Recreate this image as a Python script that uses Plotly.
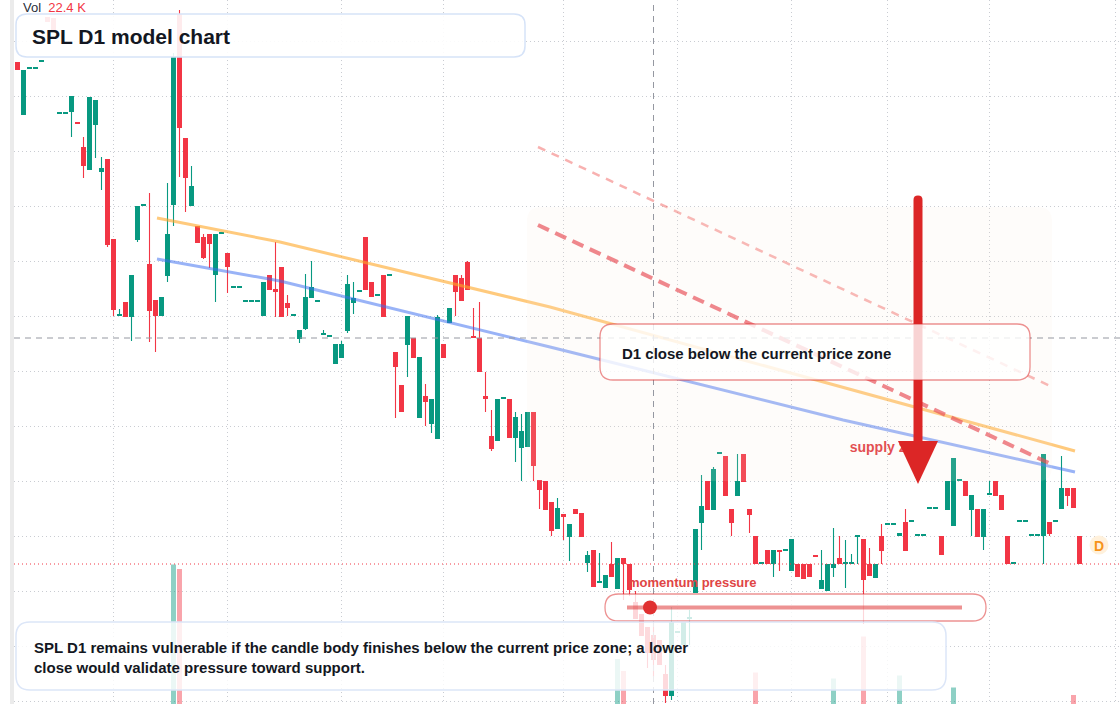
import plotly.graph_objects as go

# ------------------------------------------------------------------ data
open_ = [
    7.38, 6.85, 7.31, 7.31, 7.38, 7.83, 7.82, 6.86, 6.86, 6.88,
    6.78, 6.53, 6.30, 6.75, 6.28, 6.41, 5.61, 4.84, 4.98, 4.83,
    5.60, 5.94, 5.36, 5.00, 4.84, 5.24, 5.95, 7.86, 6.62, 5.94,
    5.74, 5.63, 5.66, 5.25, 5.66, 5.47, 5.12, 5.12, 4.98, 4.98,
    4.98, 4.84, 5.25, 5.11, 5.33, 4.97, 4.84, 4.61, 4.71, 5.02,
    4.98, 4.65, 4.63, 4.36, 4.42, 4.69, 4.97, 5.08, 5.63, 5.18,
    5.04, 5.25, 5.24, 4.48, 4.15, 4.55, 4.62, 3.82, 4.04, 3.76,
    3.61, 4.56, 4.77, 5.25, 5.22, 5.38, 4.63, 4.62, 4.04, 3.64,
    3.59, 4.01, 4.01, 3.62, 3.52, 3.53, 3.88, 3.20, 3.19, 2.98,
    2.71, 2.86, 2.63, 2.91, 2.87, 2.37, 2.50, 2.17, 2.12, 2.36,
    2.11, 2.42, 2.36, 1.98, 1.86, 1.73, 1.65, 1.60, 1.26, 1.04,
    1.67, 1.55, 1.81, 2.07, 2.77, 3.19, 2.90, 3.46, 3.44, 2.91,
    3.04, 3.46, 2.91, 2.64, 2.36, 2.50, 2.36, 2.50, 2.49, 2.29,
    2.36, 2.36, 2.36, 2.44, 2.11, 2.09, 2.32, 2.42, 2.36, 2.36,
    2.63, 2.61, 2.36, 2.22, 2.64, 2.75, 2.75, 2.64, 2.78, 2.78,
    2.64, 2.64, 2.91, 2.91, 2.64, 2.90, 2.74, 3.19, 3.19, 2.90,
    2.91, 2.63, 3.05, 3.19, 3.05, 2.64, 2.36, 2.78, 2.78, 2.64,
    2.64, 2.64, 2.78, 2.78, 2.91, 3.12, 3.12, 2.64,
]
high_ = [
    7.38, 7.30, 7.31, 7.31, 7.38, 7.83, 7.82, 6.86, 6.86, 7.04,
    6.78, 6.63, 7.03, 7.00, 6.43, 6.41, 5.61, 4.91, 4.98, 5.25,
    5.94, 5.94, 6.07, 5.00, 5.03, 6.17, 7.47, 7.90, 6.62, 6.34,
    5.74, 5.66, 5.66, 5.66, 5.66, 5.47, 5.12, 5.12, 4.98, 4.98,
    4.98, 5.18, 5.25, 5.58, 5.33, 5.05, 4.84, 4.70, 5.26, 5.39,
    4.98, 4.70, 4.63, 4.56, 4.59, 5.25, 5.18, 5.08, 5.63, 5.18,
    5.04, 5.25, 5.24, 4.48, 4.15, 4.84, 4.62, 4.43, 4.16, 4.01,
    4.85, 4.56, 4.92, 5.25, 5.25, 5.39, 4.92, 4.98, 4.28, 3.90,
    4.01, 4.01, 4.01, 3.88, 3.86, 3.88, 3.88, 3.20, 3.19, 2.98,
    3.02, 2.86, 2.76, 2.91, 2.87, 2.49, 2.50, 2.47, 2.25, 2.58,
    2.42, 2.42, 2.36, 2.09, 1.86, 1.73, 1.78, 1.60, 1.35, 1.93,
    1.67, 1.78, 1.90, 2.71, 3.25, 3.19, 3.33, 3.46, 3.44, 2.91,
    3.46, 3.46, 2.91, 2.64, 2.36, 2.50, 2.50, 2.50, 2.49, 2.61,
    2.36, 2.36, 2.36, 2.44, 2.50, 2.36, 2.72, 2.64, 2.60, 2.46,
    2.64, 2.61, 2.52, 2.36, 2.76, 2.75, 2.75, 2.67, 2.91, 2.78,
    2.64, 2.64, 2.93, 2.91, 2.64, 3.19, 3.42, 3.19, 3.19, 3.05,
    2.91, 2.91, 3.19, 3.19, 3.05, 2.64, 2.36, 2.78, 2.78, 2.64,
    2.64, 3.46, 2.78, 2.78, 3.44, 3.12, 3.12, 2.64,
]
low_ = [
    7.30, 6.85, 7.31, 7.31, 7.38, 7.78, 7.70, 6.86, 6.86, 6.63,
    6.76, 6.22, 6.30, 6.42, 6.10, 5.53, 4.84, 4.84, 4.83, 4.59,
    5.58, 5.94, 4.58, 4.48, 4.84, 5.18, 5.74, 6.23, 5.88, 5.94,
    5.57, 5.41, 5.32, 4.98, 5.66, 5.07, 5.12, 5.12, 4.98, 4.98,
    4.98, 4.84, 5.10, 4.83, 4.83, 4.84, 4.84, 4.57, 4.70, 5.02,
    4.98, 4.65, 4.63, 4.36, 4.42, 4.67, 4.86, 5.08, 5.10, 5.03,
    5.04, 4.83, 5.24, 3.82, 3.88, 4.23, 4.42, 3.82, 3.74, 3.67,
    3.61, 4.42, 4.77, 4.84, 4.99, 5.10, 4.62, 4.28, 3.88, 3.49,
    3.59, 4.01, 3.62, 3.38, 3.19, 3.53, 3.19, 2.91, 2.90, 2.64,
    2.71, 2.60, 2.39, 2.86, 2.63, 2.28, 2.13, 2.17, 2.12, 2.23,
    2.11, 2.00, 2.04, 1.81, 1.64, 1.32, 1.23, 1.35, 0.97, 1.00,
    1.67, 1.55, 1.55, 2.07, 2.50, 2.90, 2.90, 3.46, 3.04, 2.64,
    3.04, 3.18, 2.67, 2.36, 2.36, 2.36, 2.23, 2.29, 2.49, 2.29,
    2.23, 2.21, 2.23, 2.43, 2.11, 2.09, 2.23, 2.36, 2.12, 2.36,
    2.36, 1.76, 2.24, 2.22, 2.36, 2.75, 2.75, 2.64, 2.49, 2.78,
    2.64, 2.64, 2.91, 2.91, 2.45, 2.90, 2.74, 3.19, 3.04, 2.64,
    2.63, 2.50, 3.05, 3.04, 2.90, 2.36, 2.36, 2.78, 2.78, 2.64,
    2.64, 2.36, 2.64, 2.78, 2.91, 2.94, 2.92, 2.36,
]
close_ = [
    7.30, 7.30, 7.31, 7.31, 7.38, 7.78, 7.70, 6.86, 6.86, 7.04,
    6.76, 6.34, 7.03, 7.00, 6.32, 5.55, 4.90, 4.85, 4.83, 5.25,
    5.94, 5.94, 4.89, 4.84, 5.03, 5.66, 7.43, 6.72, 6.22, 6.14,
    5.57, 5.42, 5.56, 5.66, 5.66, 5.33, 5.12, 5.12, 4.98, 4.98,
    4.98, 5.18, 5.10, 5.08, 4.83, 4.92, 4.84, 4.70, 5.03, 5.13,
    4.98, 4.66, 4.63, 4.56, 4.56, 5.16, 5.02, 5.08, 5.10, 5.03,
    5.04, 4.83, 5.24, 4.33, 3.88, 4.84, 4.42, 4.43, 3.98, 4.01,
    4.83, 4.42, 4.92, 5.08, 4.99, 5.10, 4.62, 4.28, 4.01, 3.51,
    4.01, 4.01, 3.62, 3.83, 3.69, 3.88, 3.34, 3.10, 2.90, 2.69,
    2.92, 2.83, 2.76, 2.86, 2.63, 2.45, 2.13, 2.18, 2.25, 2.23,
    2.42, 2.36, 2.10, 1.81, 1.64, 1.47, 1.40, 1.35, 1.04, 1.78,
    1.67, 1.78, 1.83, 2.71, 2.94, 2.90, 3.31, 3.46, 3.04, 2.77,
    3.19, 3.18, 2.85, 2.36, 2.36, 2.36, 2.50, 2.48, 2.49, 2.61,
    2.23, 2.21, 2.23, 2.43, 2.20, 2.36, 2.36, 2.36, 2.37, 2.37,
    2.64, 2.20, 2.24, 2.36, 2.49, 2.75, 2.75, 2.67, 2.49, 2.78,
    2.64, 2.64, 2.92, 2.91, 2.45, 3.19, 3.42, 3.19, 3.04, 3.05,
    2.63, 2.91, 3.06, 3.04, 2.90, 2.36, 2.36, 2.78, 2.78, 2.64,
    2.64, 3.46, 2.66, 2.78, 3.12, 3.04, 2.92, 2.36,
]
volume_k = [
    14, 18, 6, 5, 7, 9, 8, 5, 6, 15,
    8, 19, 21, 16, 12, 22, 23, 9, 11, 17,
    18, 6, 20, 15, 10, 21, 117, 114, 23, 16,
    12, 13, 11, 17, 6, 12, 7, 6, 7, 6,
    5, 14, 10, 13, 16, 9, 6, 8, 15, 12,
    6, 7, 6, 11, 9, 18, 10, 6, 17, 9,
    6, 14, 5, 16, 13, 19, 11, 18, 12, 14,
    23, 10, 9, 13, 12, 14, 10, 17, 12, 15,
    16, 6, 17, 13, 15, 12, 19, 11, 14, 16,
    12, 10, 13, 8, 14, 11, 20, 9, 12, 15,
    54, 46, 22, 18, 17, 19, 16, 15, 21, 23,
    7, 12, 10, 23, 19, 16, 18, 6, 17, 12,
    13, 14, 11, 45, 5, 10, 12, 9, 5, 16,
    11, 12, 10, 6, 13, 15, 41, 10, 12, 8,
    9, 69, 11, 12, 13, 5, 6, 43, 15, 5,
    6, 5, 8, 6, 12, 18, 35, 6, 11, 13,
    15, 14, 9, 12, 10, 18, 5, 6, 7, 5,
    6, 23, 11, 6, 17, 12, 30, 22.4,
]

month_grid = [16, 35, 54, 71, 91, 110, 129, 145, 162, 183]
price_grid = [7.59, 7.04, 6.49, 5.94, 5.39, 4.84, 4.29, 3.74, 3.19, 2.64, 2.09, 1.54, 0.99]

upper_trend_x = [23.25, 43.75, 88.75, 176.25]
upper_trend_y = [5.82, 5.58, 4.93, 3.49]
lower_trend_x = [23.25, 43.75, 88.75, 137.6, 176.25]
lower_trend_y = [5.41, 5.19, 4.53, 3.80, 3.28]
proj_main_x = [86.75, 172.6]
proj_main_y = [5.75, 3.35]
proj_outer_x = [86.75, 172.1]
proj_outer_y = [6.53, 4.14]

crosshair_bar = 106
crosshair_price = 4.62

title_text = "SPL D1 model chart"
callout_text = "D1 close below the current price zone"
note_text = ("SPL D1 remains vulnerable if the candle body finishes below the current price zone; a lower"
             "<br>close would validate pressure toward support.")
pressure_label = "momentum pressure"
zone_label = "supply zone"
zone_label_at = (138.7, 3.52)

# ------------------------------------------------------------------ style / geometry
PW, PH, ML = 1120, 704, 14
GREEN = "#089981"
RED = "#F23645"
FONT = "Liberation Sans, Arial, sans-serif"
DARK = "#131722"


def px(x):
    return (x - ML) / (PW - ML)


def py(y):
    return 1 - y / PH


def path(cmds):
    out = []
    for c in cmds:
        op, pts = c[0], c[1:]
        coords = " ".join(f"{px(pts[k]):.5f},{py(pts[k + 1]):.5f}" for k in range(0, len(pts), 2))
        out.append(f"{op} {coords}")
    return " ".join(out) + " Z"


def rounded(x0, y0, x1, y1, r):
    return path([
        ("M", x0 + r, y0), ("L", x1 - r, y0), ("Q", x1, y0, x1, y0 + r),
        ("L", x1, y1 - r), ("Q", x1, y1, x1 - r, y1), ("L", x0 + r, y1),
        ("Q", x0, y1, x0, y1 - r), ("L", x0, y0 + r), ("Q", x0, y0, x0 + r, y0),
    ])


n = len(open_)
idx = list(range(n))
up = [close_[i] >= open_[i] for i in idx]

fig = go.Figure()

# volume (overlay axis, mostly below the visible bottom edge)
fig.add_trace(go.Bar(
    x=idx, y=volume_k, yaxis="y2", width=0.83,
    marker=dict(color=["rgba(8,153,129,0.46)" if u else "rgba(242,54,69,0.45)" for u in up], line_width=0),
    hoverinfo="skip", showlegend=False,
))

fig.add_trace(go.Scatter(x=proj_outer_x, y=proj_outer_y, mode="lines",
                         line=dict(color="rgba(239,83,80,0.45)", width=2.5, dash="8px,7px"),
                         hoverinfo="skip", showlegend=False))

# wicks
for flag, color in ((True, GREEN), (False, RED)):
    xs, ys = [], []
    for i in idx:
        if up[i] == flag and high_[i] > low_[i]:
            xs += [i, i, None]
            ys += [low_[i], high_[i], None]
    fig.add_trace(go.Scatter(x=xs, y=ys, mode="lines", line=dict(color=color, width=1.1),
                             hoverinfo="skip", showlegend=False))

# bodies
MIN_BODY = 0.015
for flag, color in ((True, GREEN), (False, RED)):
    sel = [i for i in idx if up[i] == flag]
    fig.add_trace(go.Bar(
        x=sel,
        y=[max(abs(close_[i] - open_[i]), MIN_BODY) for i in sel],
        base=[min(open_[i], close_[i]) for i in sel],
        width=0.83, marker=dict(color=color, line_width=0),
        hoverinfo="skip", showlegend=False,
    ))

fig.add_trace(go.Scatter(x=upper_trend_x, y=upper_trend_y, mode="lines",
                         line=dict(color="rgba(255,167,38,0.6)", width=3),
                         hoverinfo="skip", showlegend=False))
fig.add_trace(go.Scatter(x=lower_trend_x, y=lower_trend_y, mode="lines",
                         line=dict(color="rgba(59,110,240,0.52)", width=3),
                         hoverinfo="skip", showlegend=False))
fig.add_trace(go.Scatter(x=proj_main_x, y=proj_main_y, mode="lines",
                         line=dict(color="rgba(230,57,70,0.68)", width=4, dash="12px,7px"),
                         hoverinfo="skip", showlegend=False))

# label placed beneath the arrow
fig.add_trace(go.Scatter(x=[zone_label_at[0]], y=[zone_label_at[1]], mode="text",
                         text=[f"<b>{zone_label}</b>"], textposition="middle right",
                         textfont=dict(family=FONT, size=14, color="#E0393E"),
                         hoverinfo="skip", showlegend=False))

shapes = [
    dict(type="path", xref="paper", yref="paper", path=rounded(527, 207, 1052, 481, 14),
         fillcolor="rgba(250,232,215,0.13)", line=dict(width=0), layer="above"),
    dict(type="line", xref="paper", yref="y", x0=0, x1=1, y0=close_[-1], y1=close_[-1],
         line=dict(color=RED, width=1, dash="1px,3px"), layer="above"),
    dict(type="line", xref="x", yref="paper", x0=crosshair_bar, x1=crosshair_bar, y0=0, y1=1,
         line=dict(color="#9598A1", width=1, dash="6px,5px"), layer="above"),
    dict(type="line", xref="paper", yref="y", x0=0, x1=1, y0=crosshair_price, y1=crosshair_price,
         line=dict(color="#9598A1", width=1, dash="6px,5px"), layer="above"),
    dict(type="path", xref="paper", yref="paper",
         path=path([("M", 913.5, 446), ("L", 913.5, 200), ("Q", 913.5, 195.5, 918, 195.5),
                    ("Q", 922.5, 195.5, 922.5, 200), ("L", 922.5, 446)]),
         fillcolor="#DC2626", line=dict(width=0), layer="above"),
    dict(type="path", xref="paper", yref="paper",
         path=path([("M", 898, 441), ("L", 938, 441), ("L", 918, 484)]),
         fillcolor="#DC2626", line=dict(width=0), layer="above"),
    dict(type="path", xref="paper", yref="paper", path=rounded(16, 14, 525, 57, 11),
         fillcolor="rgba(255,255,255,0.9)", line=dict(color="#D6E3F8", width=1.5), layer="above"),
    dict(type="path", xref="paper", yref="paper", path=rounded(600, 324, 1030, 380, 13),
         fillcolor="rgba(255,255,255,0.8)", line=dict(color="rgba(220,38,38,0.5)", width=1.3), layer="above"),
    dict(type="path", xref="paper", yref="paper", path=rounded(605, 594, 986, 621, 13.5),
         fillcolor="rgba(255,255,255,0.8)", line=dict(color="rgba(220,38,38,0.5)", width=1.3), layer="above"),
    dict(type="line", xref="paper", yref="paper", x0=px(627), x1=px(962), y0=py(607.5), y1=py(607.5),
         line=dict(color="rgba(220,38,38,0.5)", width=4), layer="above"),
    dict(type="circle", xref="paper", yref="paper", x0=px(643), x1=px(657), y0=py(614.5), y1=py(600.5),
         fillcolor="#E03131", line=dict(width=0), layer="above"),
    dict(type="path", xref="paper", yref="paper", path=rounded(16, 622, 946, 690, 14),
         fillcolor="rgba(255,255,255,0.82)", line=dict(color="#DCE6F8", width=1.5), layer="above"),
    dict(type="circle", xref="paper", yref="paper", x0=px(1089.5), x1=px(1108.5), y0=py(554.5), y1=py(535.5),
         fillcolor="#FFF1DC", line=dict(width=0), layer="above"),
    dict(type="rect", xref="paper", yref="paper", x0=px(10), x1=px(14), y0=0, y1=1,
         fillcolor="#EBEBEB", line=dict(width=0), layer="above"),
]


def ann(x, y, text, size, color=DARK, **kw):
    return dict(x=px(x), y=py(y), xref="paper", yref="paper", text=text, showarrow=False,
                xanchor=kw.pop("xanchor", "left"), yanchor="middle", align="left",
                font=dict(family=FONT, size=size, color=color), borderpad=0, **kw)


annotations = [
    ann(22, 8, f"Vol&nbsp;&nbsp;<span style='color:{RED}'>{volume_k[-1]:.1f} K</span>", 13, color="#2A2E39"),
    ann(31, 36, f"<b>{title_text}</b>", 21),
    ann(621, 353, f"<b>{callout_text}</b>", 15),
    ann(627, 582, f"<b>{pressure_label}</b>", 13, color="#E04545"),
    ann(33, 657.5, f"<b>{note_text}</b>", 15),
    ann(1099, 545.5, "<b>D</b>", 14, color="#F7931A", xanchor="center"),
]

fig.update_layout(
    width=PW, height=PH,
    margin=dict(l=ML, r=0, t=0, b=0),
    paper_bgcolor="white", plot_bgcolor="white",
    barmode="overlay", showlegend=False, hovermode=False,
    xaxis=dict(range=[-0.5833, 183.75], tickvals=month_grid, showticklabels=False, ticks="",
               showgrid=True, gridcolor="#C9CCD2", griddash="1px,3px", gridwidth=1,
               zeroline=False, showline=False, fixedrange=True),
    yaxis=dict(range=[0.96, 8.00], tickvals=price_grid, showticklabels=False, ticks="",
               showgrid=True, gridcolor="#C9CCD2", griddash="1px,3px", gridwidth=1,
               zeroline=False, showline=False, fixedrange=True),
    yaxis2=dict(overlaying="y", range=[24, 493.33], visible=False, showgrid=False, fixedrange=True),
    shapes=shapes,
    annotations=annotations,
)

fig.write_html("out.html", config={"displayModeBar": False})
